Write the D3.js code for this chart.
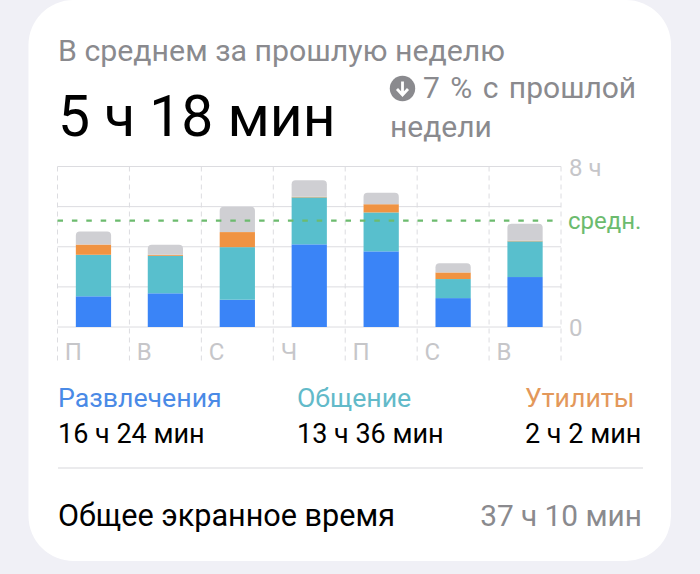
<!DOCTYPE html>
<html>
  <head>
    <meta charset="utf-8">
    <title>Экранное время</title>
    <style>
      html, body { margin: 0; padding: 0; background: #f0f0f6; }
      svg { display: block; font-family: Roboto, sans-serif; }
    </style>
  </head>
  <body>
    <script src="https://cdn.jsdelivr.net/npm/d3@7"></script>
    <script>
      var days = ['П', 'В', 'С', 'Ч', 'П ', 'С ', 'В '];
      var dayLabels = ['П', 'В', 'С', 'Ч', 'П', 'С', 'В'];
      // часы по дням
      var entertainment = [1.53, 1.68, 1.36, 4.12, 3.77, 1.44, 2.49];
      var social = [2.07, 1.87, 2.62, 2.34, 1.94, 0.95, 1.78];
      var utilities = [0.51, 0.05, 0.75, 0.03, 0.41, 0.33, 0.03];
      var other = [0.65, 0.5, 1.26, 0.83, 0.57, 0.46, 0.85];
      var average = 5.3;
      var hourTicks = [0, 2, 4, 6, 8];
      var seriesNames = ['entertainment', 'social', 'utilities', 'other'];
      var seriesColors = ['#3a84f7', '#58bfcd', '#f09342', '#cfcfd3'];
      var legendNames = ['Развлечения', 'Общение', 'Утилиты'];
      var legendValues = ['16 ч 24 мин', '13 ч 36 мин', '2 ч 2 мин'];
      var legendColors = ['#4a8ae6', '#62bac9', '#e3985a'];

      var width = 700,
        height = 574,
        plot = { left: 57.5, right: 561, top: 166.5, bottom: 327 };

      var svg = d3.select('body')
        .append('svg')
        .attr('width', width)
        .attr('height', height);

      // карточка
      svg.append('rect')
        .attr('x', 28.5)
        .attr('y', 0)
        .attr('width', 642.5)
        .attr('height', 561)
        .attr('rx', 45)
        .attr('fill', '#fff');

      var x = d3.scaleBand()
        .domain(days)
        .range([plot.left, plot.right])
        .paddingInner(0.51)
        .paddingOuter(0.255);

      var y = d3.scaleLinear()
        .domain([0, 8])
        .range([plot.bottom, plot.top]);

      // горизонтальная сетка
      svg.append('g').selectAll('line')
        .data(hourTicks)
        .enter().append('line')
        .attr('x1', plot.left)
        .attr('x2', plot.right)
        .attr('y1', function(d) { return y(d); })
        .attr('y2', function(d) { return y(d); })
        .attr('stroke', '#dcdce0')
        .attr('stroke-width', 1);

      // вертикальный пунктир
      var step = x.step();
      var vLines = days.map(function(d) { return x(d) + x.bandwidth() / 2 - step / 2; });
      vLines.push(plot.right);
      svg.append('g').selectAll('line')
        .data(vLines)
        .enter().append('line')
        .attr('x1', function(d) { return d; })
        .attr('x2', function(d) { return d; })
        .attr('y1', plot.top)
        .attr('y2', 362)
        .attr('stroke', '#dcdce0')
        .attr('stroke-width', 1)
        .attr('stroke-dasharray', '5 4');

      // столбцы
      var rows = days.map(function(d, i) {
        return {
          day: d,
          entertainment: entertainment[i],
          social: social[i],
          utilities: utilities[i],
          other: other[i]
        };
      });
      var stacked = d3.stack().keys(seriesNames)(rows);

      stacked.forEach(function(layer, k) {
        var g = svg.append('g').attr('fill', seriesColors[k]);
        if (seriesNames[k] === 'other') {
          // верхний сегмент со скруглением
          g.selectAll('path')
            .data(layer)
            .enter().append('path')
            .attr('d', function(d) {
              var x0 = x(d.data.day), w = x.bandwidth(), t = y(d[1]), b = y(d[0]), r = 4;
              return 'M' + x0 + ',' + b + 'V' + (t + r) + 'Q' + x0 + ',' + t + ' ' + (x0 + r) + ',' + t +
                'H' + (x0 + w - r) + 'Q' + (x0 + w) + ',' + t + ' ' + (x0 + w) + ',' + (t + r) + 'V' + b + 'Z';
            });
        } else {
          g.selectAll('rect')
            .data(layer)
            .enter().append('rect')
            .attr('x', function(d) { return x(d.data.day); })
            .attr('y', function(d) { return y(d[1]); })
            .attr('width', x.bandwidth())
            .attr('height', function(d) { return y(d[0]) - y(d[1]); });
        }
      });

      // средняя линия
      svg.append('line')
        .attr('x1', plot.left)
        .attr('x2', plot.right)
        .attr('y1', y(average))
        .attr('y2', y(average))
        .attr('stroke', '#6cbb6e')
        .attr('stroke-width', 2.4)
        .attr('stroke-dasharray', '5.5 8.9');

      function label(px, py, str, size, color, anchor) {
        return svg.append('text')
          .attr('x', px)
          .attr('y', py)
          .attr('font-size', size)
          .attr('fill', color)
          .attr('text-anchor', anchor || 'start')
          .text(str);
      }

      // подписи осей
      days.forEach(function(d, i) {
        label(x(d) - 11, 360, dayLabels[i], 24, '#c6c6c9');
      });
      label(569, 176, '8 ч', 24, '#c6c6c9');
      label(569, 336, '0', 24, '#c6c6c9');
      label(568, 229, 'средн.', 24, '#6cbb6e');

      // заголовок
      label(58, 61, 'В среднем за прошлую неделю', 30.3, '#8a8a8e');
      label(58, 136, '5 ч 18 мин', 57, '#000');
      label(423, 98, '7 % с прошлой', 30, '#8a8a8e').attr('word-spacing', 3);
      label(390, 137, 'недели', 30, '#8a8a8e');

      // значок со стрелкой
      svg.append('circle').attr('cx', 402.5).attr('cy', 88.5).attr('r', 12.7).attr('fill', '#8a8a8e');
      svg.append('path')
        .attr('d', 'M402.5,81.5V95M397,89L402.5,95L408,89')
        .attr('fill', 'none')
        .attr('stroke', '#fff')
        .attr('stroke-width', 2.8);

      // легенда
      var legendX = [58, 297, 525];
      legendNames.forEach(function(n, i) {
        label(legendX[i], 407, n, 26.7, legendColors[i]);
        label(legendX[i], 443, legendValues[i], 27, '#000');
      });

      svg.append('line')
        .attr('x1', 58).attr('x2', 643)
        .attr('y1', 468).attr('y2', 468)
        .attr('stroke', '#e4e4e7')
        .attr('stroke-width', 1.5);

      label(58, 526, 'Общее экранное время', 30.6, '#000');
      label(642, 526, '37 ч 10 мин', 29.8, '#8a8a8e', 'end');
    </script>
  </body>
</html>
